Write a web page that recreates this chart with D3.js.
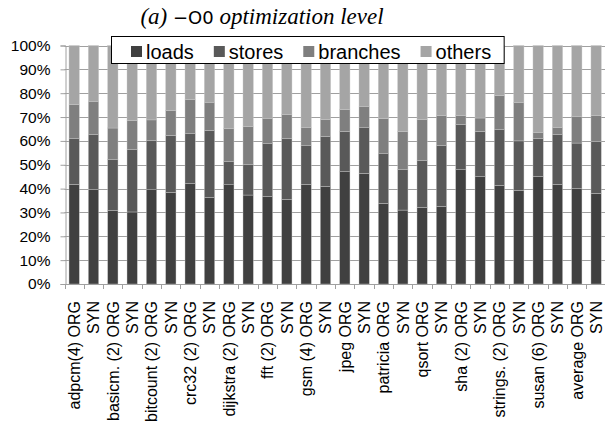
<!DOCTYPE html>
<html>
<head>
<meta charset="utf-8">
<script src="https://cdn.jsdelivr.net/npm/d3@7"></script>
<style>
  html, body { margin: 0; padding: 0; background: #fff; }
  svg { display: block; }
</style>
</head>
<body>
<svg id="chart" width="605" height="424"></svg>
<script>
// Instruction mix per benchmark, original (ORG) vs. synthetic (SYN), in percent
const benchmarks = ["adpcm(4)", "basicm. (2)", "bitcount (2)", "crc32 (2)", "dijkstra (2)",
  "fft (2)", "gsm (4)", "jpeg", "patricia", "qsort", "sha (2)", "strings. (2)", "susan (6)", "average"];
const variants = ["ORG", "SYN"];
const seriesNames = ["loads", "stores", "branches", "others"];
const yTicks = [0, 10, 20, 30, 40, 50, 60, 70, 80, 90, 100];

const loads = [41.8, 39.7, 30.9, 30.2, 39.5, 38.4, 42.1, 36.3, 41.6, 37.3, 36.8, 35.5, 41.8, 41.0,
  47.1, 46.4, 33.8, 31.0, 32.2, 32.6, 47.9, 45.0, 41.4, 39.3, 45.2, 41.8, 40.0, 38.0];
const stores = [19.1, 22.9, 21.2, 26.3, 20.6, 23.9, 20.9, 28.1, 9.7, 12.7, 22.0, 25.6, 16.4, 20.9,
  16.8, 19.1, 20.8, 16.9, 19.5, 25.4, 18.9, 19.0, 23.5, 20.7, 15.9, 21.0, 19.1, 21.8];
const branches = [14.3, 13.8, 13.3, 12.1, 8.7, 10.4, 14.4, 11.8, 13.8, 16.0, 10.7, 9.9, 7.3, 7.0,
  9.2, 8.8, 14.7, 16.0, 17.2, 12.6, 3.8, 5.6, 14.1, 16.0, 2.3, 2.7, 11.2, 10.9];
const others = [24.8, 23.6, 34.6, 31.4, 31.2, 27.3, 22.6, 23.8, 34.9, 34.0, 30.5, 29.0, 34.5, 31.1,
  26.9, 25.7, 30.7, 36.1, 31.1, 29.4, 29.4, 30.4, 21.0, 24.0, 36.6, 34.5, 29.7, 29.3];

const colors = ["#404040", "#595959", "#7f7f7f", "#a5a5a5"];

// One row per bar: benchmark/variant pairs in drawing order
const rows = [];
benchmarks.forEach((b, bi) => variants.forEach((v, vi) => {
  const i = bi * 2 + vi;
  rows.push({
    key: i,
    label: vi === 0 ? b + " " + v : v,
    loads: loads[i], stores: stores[i], branches: branches[i], others: others[i]
  });
}));

const svg = d3.select("#chart");
const plotLeft = 64.5, plotRight = 605.8, plotTop = 45.5, plotBottom = 284;

const x = d3.scaleBand().domain(rows.map(d => d.key)).range([plotLeft, plotRight])
  .paddingInner(0.467).paddingOuter(0.2335);
const y = d3.scaleLinear().domain([0, 100]).range([plotBottom, plotTop]);

// Horizontal gridlines
svg.append("g").selectAll("line").data(yTicks.filter(t => t > 0)).join("line")
  .attr("x1", plotLeft).attr("x2", 605)
  .attr("y1", d => Math.round(y(d)) + 0.5).attr("y2", d => Math.round(y(d)) + 0.5)
  .attr("stroke", "#a0a0a0").attr("stroke-width", 1);

// Stacked bars
const stack = d3.stack().keys(seriesNames)(rows);
svg.append("g").selectAll("g").data(stack).join("g")
  .attr("fill", (d, i) => colors[i])
  .selectAll("rect").data(d => d).join("rect")
  .attr("x", d => x(d.data.key))
  .attr("width", x.bandwidth())
  .attr("y", d => y(d[1]))
  .attr("height", d => y(d[0]) - y(d[1]))
  .attr("stroke", "#c8c8c8").attr("stroke-width", 0.4);

// Y axis
const yAxis = d3.axisLeft(y).tickValues(yTicks).tickFormat(d => d + "%").tickSize(5).tickPadding(10);
const gy = svg.append("g").attr("transform", `translate(${Math.round(plotLeft) + 0.5},0)`).call(yAxis);
gy.select(".domain").attr("stroke", "#a0a0a0");
gy.selectAll(".tick line").attr("stroke", "#a0a0a0");
gy.selectAll(".tick text").attr("font-family", "'Liberation Sans', Arial, sans-serif")
  .attr("font-size", 15.5).attr("fill", "#000");

// X axis: line at 0% with ticks on band boundaries
const gx = svg.append("g");
gx.append("line").attr("x1", plotLeft).attr("x2", 605)
  .attr("y1", Math.round(plotBottom) + 0.5).attr("y2", Math.round(plotBottom) + 0.5)
  .attr("stroke", "#a0a0a0");
gx.selectAll("line.tk").data(d3.range(rows.length + 1)).join("line").attr("class", "tk")
  .attr("x1", i => Math.round(plotLeft + i * x.step()) + 0.5)
  .attr("x2", i => Math.round(plotLeft + i * x.step()) + 0.5)
  .attr("y1", plotBottom).attr("y2", plotBottom + 5)
  .attr("stroke", "#a0a0a0");

// Rotated category labels
gx.selectAll("text").data(rows).join("text")
  .attr("transform", d => `translate(${x(d.key) + x.bandwidth() / 2},301) rotate(-90)`)
  .attr("text-anchor", "end").attr("dy", "0.36em")
  .attr("font-family", "'Liberation Sans', Arial, sans-serif").attr("font-size", 16)
  .text(d => d.label);

// Title
const title = svg.append("text").attr("x", 262).attr("y", 24).attr("text-anchor", "middle")
  .attr("font-family", "'Liberation Serif', 'Times New Roman', serif").attr("font-size", 23)
  .attr("font-style", "italic");
title.append("tspan").text("(a) ");
title.append("tspan").attr("font-family", "'DejaVu Sans', sans-serif").attr("font-style", "normal")
  .attr("font-size", 18).text("\u2212O0");
title.append("tspan").text(" optimization level");

// Legend
const lg = svg.append("g");
const box = lg.append("rect").attr("fill", "#fff").attr("stroke", "#000").attr("stroke-width", 1);
let lx = 131;
seriesNames.forEach((name, i) => {
  lg.append("rect").attr("x", lx).attr("y", 46).attr("width", 11).attr("height", 11)
    .attr("fill", colors[i]);
  const t = lg.append("text").attr("x", lx + 15).attr("y", 58.5)
    .attr("font-family", "'Liberation Sans', Arial, sans-serif").attr("font-size", 20)
    .text(name);
  lx = lx + 15 + t.node().getComputedTextLength() + 20;
});
box.attr("x", 111.5).attr("y", 36.5).attr("width", lx - 20 + 13 - 111.5).attr("height", 27);
</script>
</body>
</html>
